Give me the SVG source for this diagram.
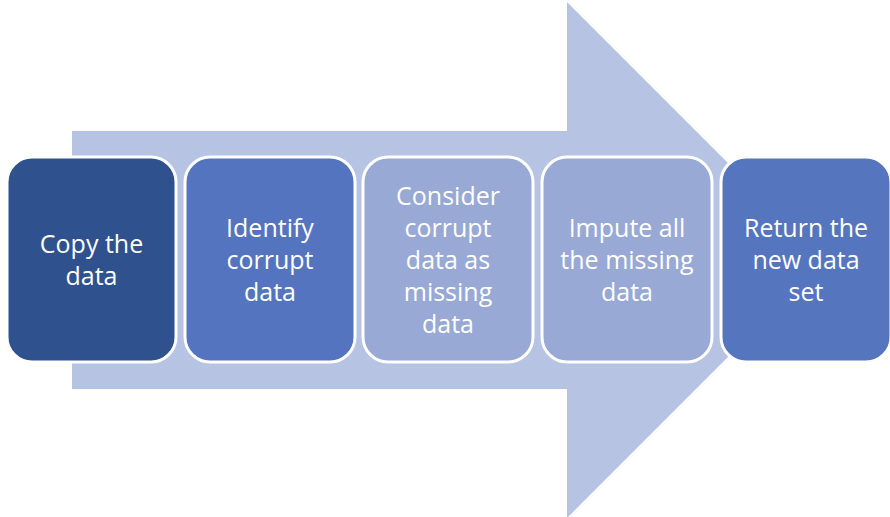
<svg xmlns="http://www.w3.org/2000/svg" width="890" height="517" viewBox="0 0 890 517">
<style>
.box{stroke:#FFFFFF;stroke-width:3}
.t{font-family:"Open Sans","Noto Sans",sans-serif;font-size:25px;fill:#FFFFFF;text-anchor:middle}
</style>
<rect width="890" height="517" fill="#FFFFFF"/>
<g id="connectors">
<polygon points="72,131 567,131 567,2 825,260 567,518 567,389 72,389" fill="#B7C3E3"/>
</g>
<g id="node1">
<rect class="box" x="7" y="157" width="169" height="205" rx="25" fill="#2F528F"/>
<text class="t" x="91.5" y="253">Copy the</text>
<text class="t" x="91.5" y="285">data</text>
</g>
<g id="node2">
<rect class="box" x="185" y="157" width="170" height="205" rx="25" fill="#5574BF"/>
<text class="t" x="270" y="237">Identify</text>
<text class="t" x="270" y="269">corrupt</text>
<text class="t" x="270" y="301">data</text>
</g>
<g id="node3">
<rect class="box" x="363" y="157" width="170" height="205" rx="25" fill="#98A9D6"/>
<text class="t" x="448" y="205">Consider</text>
<text class="t" x="448" y="237">corrupt</text>
<text class="t" x="448" y="269">data as</text>
<text class="t" x="448" y="301">missing</text>
<text class="t" x="448" y="333">data</text>
</g>
<g id="node4">
<rect class="box" x="542" y="157" width="170" height="205" rx="25" fill="#98A9D6"/>
<text class="t" x="627" y="237">Impute all</text>
<text class="t" x="627" y="269">the missing</text>
<text class="t" x="627" y="301">data</text>
</g>
<g id="node5">
<rect class="box" x="721" y="157" width="170" height="205" rx="25" fill="#5576BF"/>
<text class="t" x="806" y="237">Return the</text>
<text class="t" x="806" y="269">new data</text>
<text class="t" x="806" y="301">set</text>
</g>
</svg>
